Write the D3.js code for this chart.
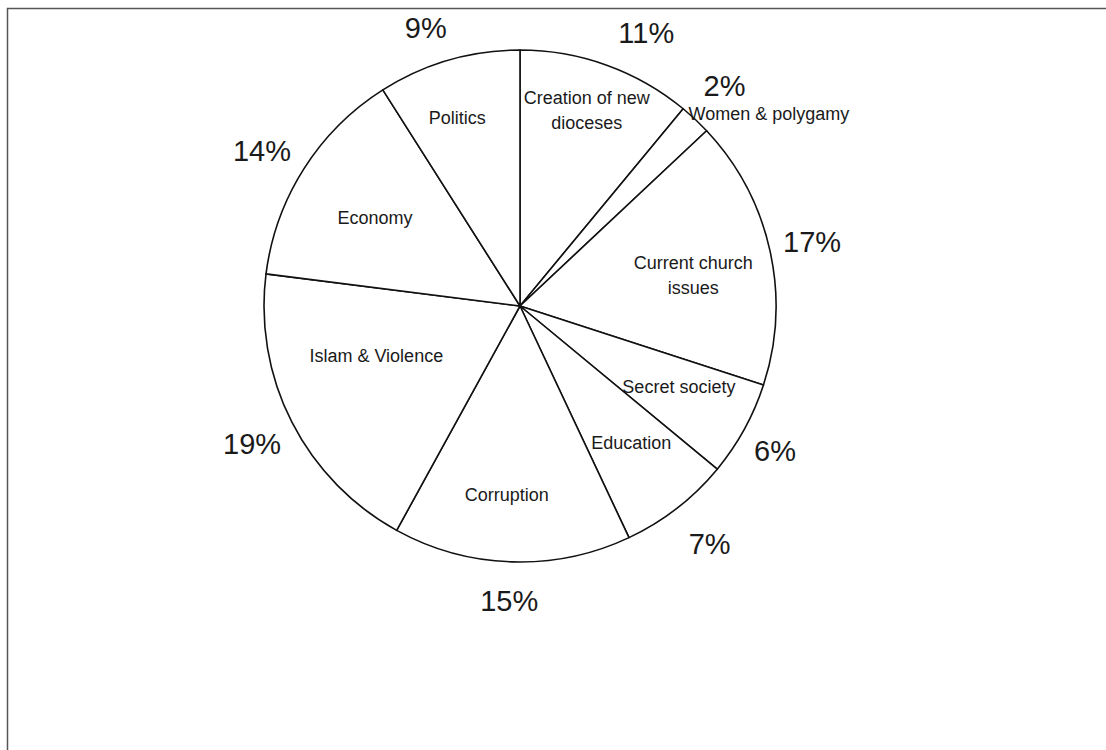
<!DOCTYPE html>
<html>
<head>
<meta charset="utf-8">
<script src="https://cdn.jsdelivr.net/npm/d3@7"></script>
<style>
  body { margin: 0; background: #fff; }
  text { font-family: "Liberation Sans", Arial, sans-serif; fill: #1a1a1a; }
</style>
</head>
<body>
<div id="content"></div>
<script>
'use strict';
//////////////////// input data
const categories = ['Creation of new dioceses', 'Women & polygamy', 'Current church issues',
                    'Secret society', 'Education', 'Corruption', 'Islam & Violence',
                    'Economy', 'Politics'];
const shares = [11, 2, 17, 6, 7, 15, 19, 14, 9];      // percent
const pctLabels = ['11%', '2%', '17%', '6%', '7%', '15%', '19%', '14%', '9%'];

// label placement (radius in px from centre, angle nudge in degrees)
const nameRadius = [207, 256, 176, 178, 176, 189, 152, 170, 199];
const nameNudge  = [-1, -2, 2.6, -2, -1.4, 2.2, 8, -1, -2.2];
const pctRadius  = [301, 301, 299, 293, 304, 295, 301, 301, 294];
const pctNudge   = [5, -0.4, 0.2, 0.7, -0.8, 0.3, -0.1, -1.4, -2.5];

//////////////////// drawing area
const W = 1106, H = 750;
const cx = 520, cy = 306, R = 256;
const deg = Math.PI / 180;

const svg = d3.select('#content').append('svg')
    .attr('width', W)
    .attr('height', H);

// scanned page frame
svg.append('path')
    .attr('d', 'M7.5,' + H + ' L7.5,8.5 L' + W + ',8.5')
    .attr('fill', 'none')
    .attr('stroke', '#555')
    .attr('stroke-width', 1.5);

const pie = d3.pie().sort(null).value(d => d)(shares);
const arc = d3.arc().innerRadius(0).outerRadius(R);

const g = svg.append('g')
    .attr('transform', 'translate(' + cx + ',' + cy + ')');

g.selectAll('.slice')
    .data(pie)
    .enter()
    .append('path')
    .attr('class', 'slice')
    .attr('d', arc)
    .attr('fill', '#fff')
    .attr('stroke', '#111')
    .attr('stroke-width', 1.6)
    .attr('stroke-linejoin', 'round');

const polar = (r, a) => [r * Math.sin(a), -r * Math.cos(a)];
const mid = d => (d.startAngle + d.endAngle) / 2;

// percentage labels outside
g.selectAll('.pct')
    .data(pie)
    .enter()
    .append('text')
    .attr('class', 'pct')
    .attr('transform', (d, i) =>
        'translate(' + polar(pctRadius[i], mid(d) + pctNudge[i] * deg) + ')')
    .attr('text-anchor', 'middle')
    .attr('dy', '0.36em')
    .attr('font-size', 29)
    .text((d, i) => pctLabels[i]);

// category labels inside
const wrap = { 'Creation of new dioceses': ['Creation of new', 'dioceses'],
               'Current church issues': ['Current church', 'issues'] };

const names = g.selectAll('.name')
    .data(pie)
    .enter()
    .append('text')
    .attr('class', 'name')
    .attr('font-size', 18)
    .attr('text-anchor', (d, i) => i === 1 ? 'start' : 'middle')
    .attr('transform', (d, i) =>
        'translate(' + polar(nameRadius[i], mid(d) + nameNudge[i] * deg) + ')');

names.each(function(d, i) {
    const lines = wrap[categories[i]] || [categories[i]];
    const t = d3.select(this);
    lines.forEach((s, k) => {
        t.append('tspan')
            .attr('x', 0)
            .attr('y', (k - (lines.length - 1) / 2) * 25)
            .attr('dy', '0.36em')
            .text(s);
    });
});
</script>
</body>
</html>
